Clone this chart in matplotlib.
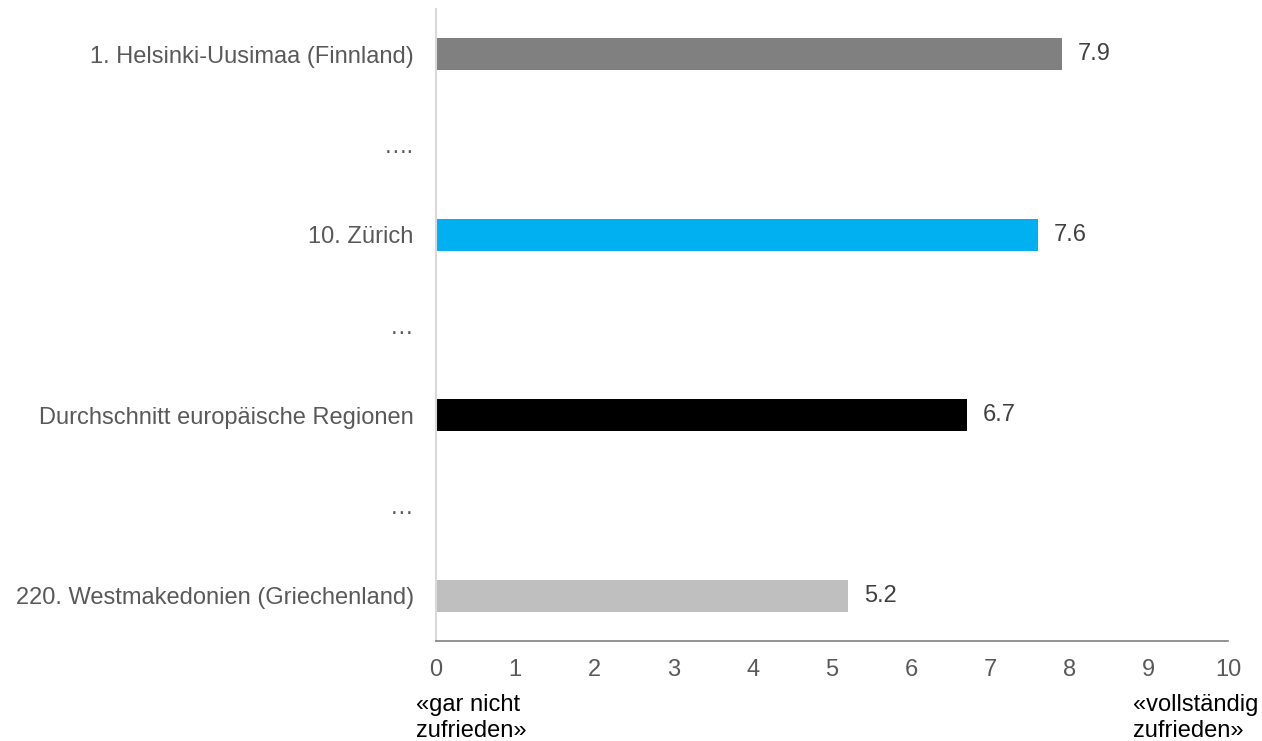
import matplotlib
matplotlib.use("Agg")
import matplotlib.pyplot as plt

plt.rcParams['font.family'] = ['Liberation Sans', 'DejaVu Sans']

categories = ["1. Helsinki-Uusimaa (Finnland)", "\u2026.", "10. Z\u00fcrich", "\u2026",
              "Durchschnitt europ\u00e4ische Regionen", "\u2026", "220. Westmakedonien (Griechenland)"]
values = [7.9, None, 7.6, None, 6.7, None, 5.2]
colors = ["#808080", None, "#00b0f0", None, "#000000", None, "#bfbfbf"]
xticks = list(range(0, 11))

FS = 17

fig = plt.figure(figsize=(12.62, 7.41), dpi=100)
ax = fig.add_axes([436/1262, (741-641)/741, (1228-436)/1262, (641-9)/741])

for i, (v, c) in enumerate(zip(values, colors)):
    if v is None:
        continue
    ax.barh(i, v, height=0.355, color=c)
    ax.annotate(f"{v:.1f}", (v, i), xytext=(11.5, 0), textcoords="offset points",
                va="center", ha="left", fontsize=FS, color="#404040")

ax.set_xlim(0, 10)
ax.set_ylim(6.5, -0.5)
ax.set_yticks(range(len(categories)))
ax.set_yticklabels(categories, fontsize=FS, color="#595959")
ax.set_xticks(xticks)
ax.set_xticklabels([str(t) for t in xticks], fontsize=FS, color="#595959")
ax.tick_params(axis="x", length=0, pad=13)
ax.tick_params(axis="y", length=0, pad=16)
for s in ["top", "right"]:
    ax.spines[s].set_visible(False)
ax.spines["left"].set_color("#d9d9d9")
ax.spines["left"].set_linewidth(1.5)
ax.spines["bottom"].set_color("#808080")
ax.spines["bottom"].set_linewidth(1.2)

fig.text(416/1262, 1 - 718/741, "\u00abgar nicht\nzufrieden\u00bb", fontsize=FS, color="black",
         ha="left", va="center", linespacing=1.25)
fig.text(1133/1262, 1 - 718/741, "\u00abvollst\u00e4ndig\nzufrieden\u00bb", fontsize=FS, color="black",
         ha="left", va="center", linespacing=1.25)

fig.savefig("out.png", dpi=100)
